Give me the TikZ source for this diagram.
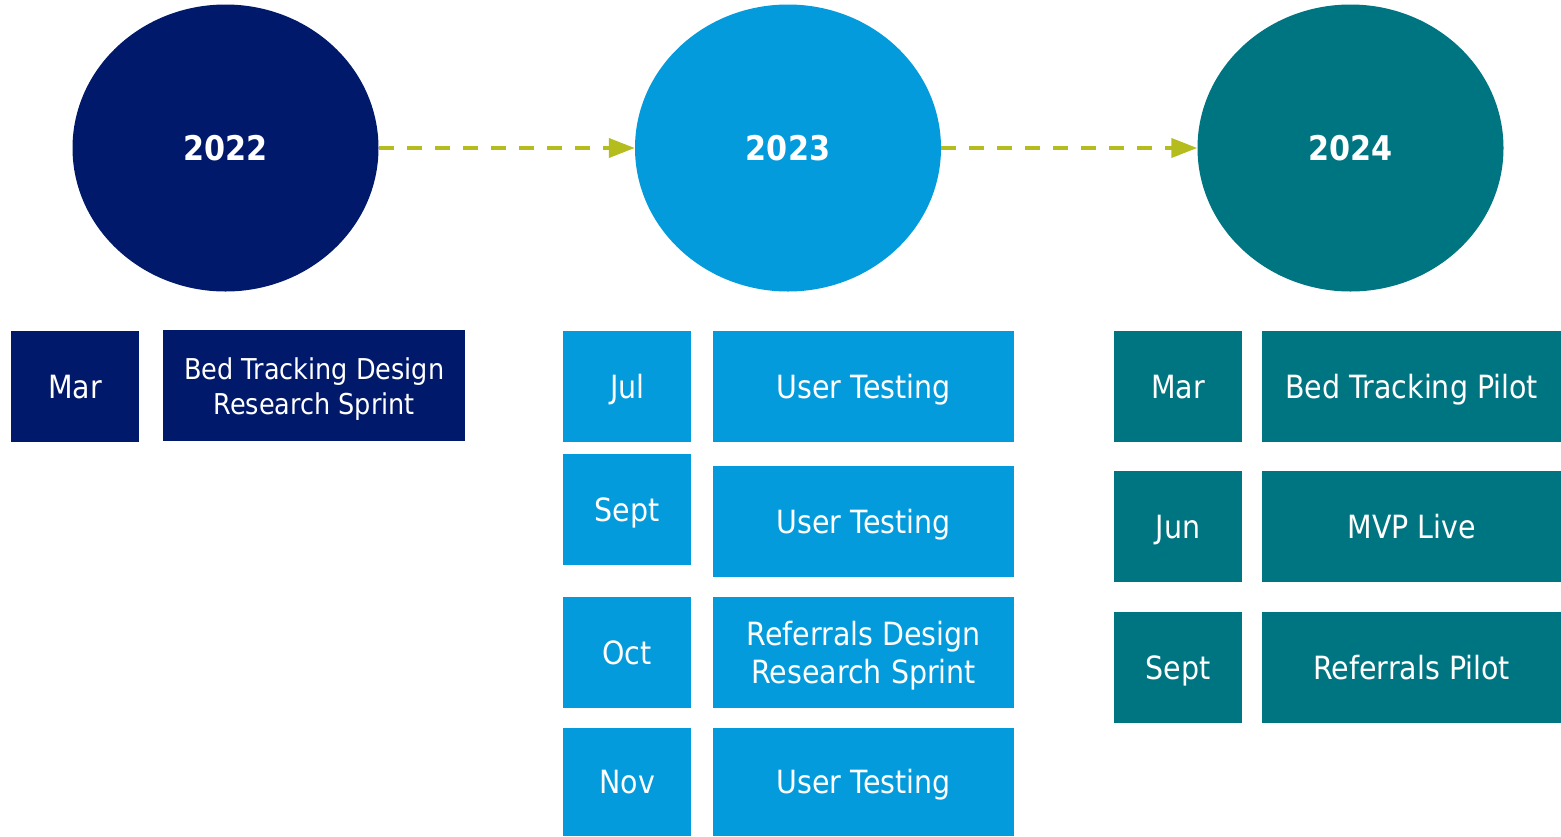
\documentclass[tikz,border=0pt]{standalone}
\usepackage{fontspec}
\setmainfont{DejaVu Sans}[FakeStretch=0.89]
\usetikzlibrary{shapes.geometric,arrows.meta}
\definecolor{navyblue}{HTML}{00196B}
\definecolor{skyblue}{HTML}{039BDC}
\definecolor{tealdark}{HTML}{007582}
\definecolor{arrowgreen}{HTML}{B5BD1E}
\begin{document}
\begin{tikzpicture}[x=1pt,y=-1pt,
  year/.style={ellipse, inner sep=0pt, minimum width=306pt, minimum height=287pt,
    text=white, font=\fontsize{34}{40}\selectfont\bfseries},
  box/.style={rectangle, anchor=north west, inner sep=0pt, text=white,
    minimum height=111pt, font=\fontsize{32}{39}\selectfont,
    text height=23.3pt, text depth=0pt},
  mon/.style={box, minimum width=128pt},
  evt/.style={box, minimum width=301pt},
  twoline/.style={align=center, text height=, text depth=0pt},
  link/.style={draw=arrowgreen, line width=4pt, dash pattern=on 15pt off 13pt,
    -{Triangle[length=26pt,width=19pt]}}
]
\useasboundingbox (0,0) rectangle (1561,836);

% year circles
\node[year, fill=navyblue] (y22) at (225.5,148) {2022};
\node[year, fill=skyblue]  (y23) at (788,148)   {2023};
\node[year, fill=tealdark] (y24) at (1350.5,148) {2024};

\draw[link] (y22.east) -- (y23.west);
\draw[link] (y23.east) -- (y24.west);

% 2022 milestones
\node[mon, fill=navyblue] (m22a) at (11,331) {Mar};
\node[evt, fill=navyblue, twoline, minimum width=302pt,
      font=\fontsize{28.7}{35}\selectfont] (e22a) at (163,330)
      {Bed Tracking Design\\Research Sprint};

% 2023 milestones
\node[mon, fill=skyblue] (m23a) at (563,331) {Jul};
\node[evt, fill=skyblue] (e23a) at (713,331) {User Testing};
\node[mon, fill=skyblue] (m23b) at (563,454) {Sept};
\node[evt, fill=skyblue] (e23b) at (713,466) {User Testing};
\node[mon, fill=skyblue] (m23c) at (563,597) {Oct};
\node[evt, fill=skyblue, twoline, font=\fontsize{32}{38}\selectfont] (e23c) at (713,597)
      {Referrals Design\\Research Sprint};
\node[mon, fill=skyblue, minimum height=108pt] (m23d) at (563,728) {Nov};
\node[evt, fill=skyblue, minimum height=108pt] (e23d) at (713,728) {User Testing};

% 2024 milestones
\node[mon, fill=tealdark] (m24a) at (1114,331) {Mar};
\node[evt, fill=tealdark, minimum width=299pt] (e24a) at (1262,331) {Bed Tracking Pilot};
\node[mon, fill=tealdark] (m24b) at (1114,471) {Jun};
\node[evt, fill=tealdark, minimum width=299pt] (e24b) at (1262,471) {MVP Live};
\node[mon, fill=tealdark] (m24c) at (1114,612) {Sept};
\node[evt, fill=tealdark, minimum width=299pt] (e24c) at (1262,612) {Referrals Pilot};
\end{tikzpicture}
\end{document}
